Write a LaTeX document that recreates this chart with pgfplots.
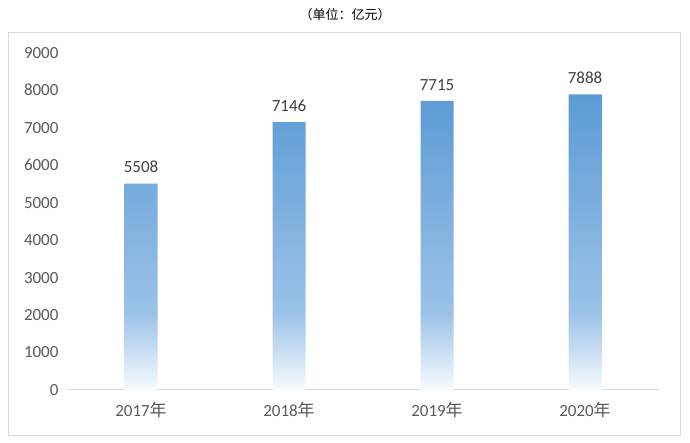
\documentclass[border=0pt]{standalone}
\usepackage{fontspec}
\setmainfont{Carlito}
\newfontfamily\cjk{Noto Sans CJK SC}
\usepackage{pgfplots}
\pgfplotsset{compat=1.18}

\definecolor{bartop}{HTML}{5B9BD5}
\definecolor{barmid}{HTML}{9CC2E7}
\definecolor{barlow}{HTML}{F8FBFE}
\definecolor{ticktxt}{HTML}{595959}
\definecolor{lbltxt}{HTML}{404040}
\definecolor{frame}{HTML}{D9D9D9}

% path spans 25bp..75bp of the shading
\pgfdeclareverticalshading{barshade}{100bp}{%
  color(0bp)=(barlow); color(25bp)=(barlow); color(38bp)=(barmid);
  color(75bp)=(bartop); color(100bp)=(bartop)}

\begin{document}
\begin{tikzpicture}[x=1pt,y=1pt]
\useasboundingbox (0,0) rectangle (690,443);
\draw[frame, line width=1pt] (8,7) rectangle (680,410);
\node[font=\cjk\fontsize{13}{15}\selectfont, text=black] at (345,428) {（单位：亿元）};

\begin{axis}[
  at={(67pt,53pt)}, anchor=south west,
  scale only axis,
  width=592pt, height=337.3pt,
  xmin=-0.5, xmax=3.5,
  ymin=0, ymax=9000,
  ytick={0,1000,...,9000},
  xtick={0,1,2,3},
  xticklabels={2017{\cjk 年},2018{\cjk 年},2019{\cjk 年},2020{\cjk 年}},
  axis x line*=bottom,
  axis y line*=left,
  x axis line style={draw=frame, line width=1pt, -},
  y axis line style={draw=none},
  major tick length=0pt,
  tick label style={font=\fontsize{17}{20}\selectfont, text=ticktxt},
  yticklabel style={xshift=-5pt},
  xticklabel style={yshift=-9pt},
  /pgf/number format/1000 sep={},
  /pgf/number format/assume math mode=true,
  clip=false,
]
\addplot[ybar, bar width=33pt, draw=none, shade, shading=barshade,
  nodes near coords,
  nodes near coords style={font=\fontsize{17}{20}\selectfont, text=lbltxt, yshift=7pt,
    /pgf/number format/1000 sep={}, /pgf/number format/assume math mode=true}]
  coordinates {(0,5508) (1,7146) (2,7715) (3,7888)};
\end{axis}
\end{tikzpicture}
\end{document}
